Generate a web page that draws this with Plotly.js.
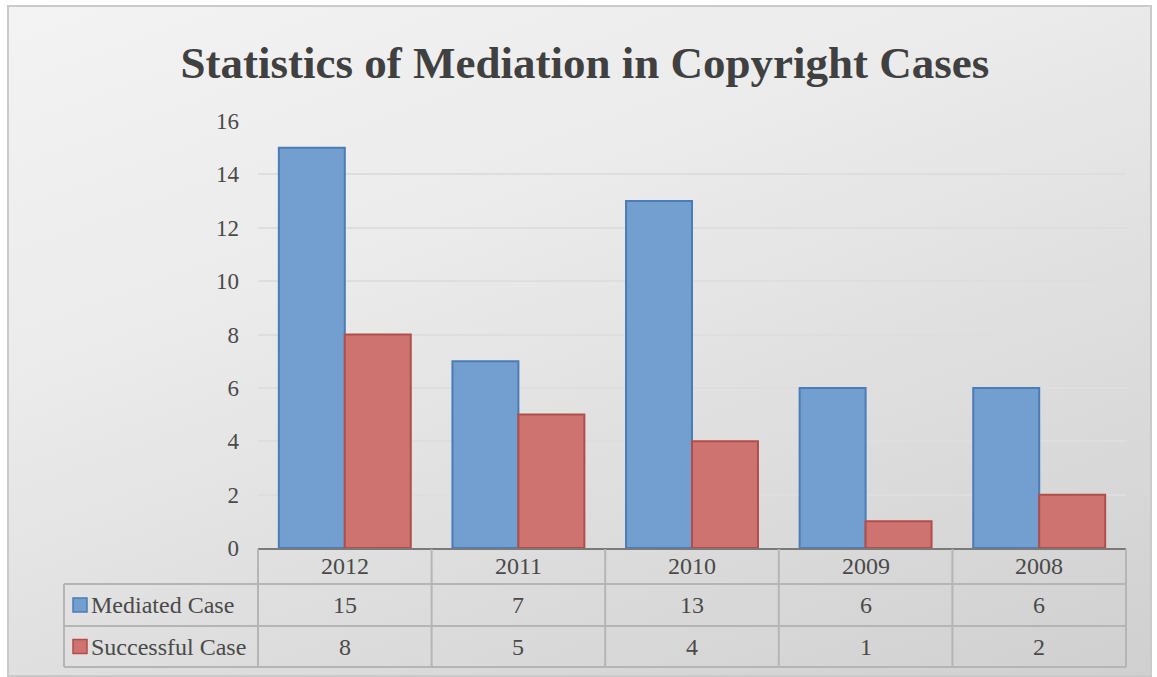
<!DOCTYPE html>
<html>
<head>
<meta charset="utf-8">
<script src="https://cdn.plot.ly/plotly-3.0.1.min.js"></script>
<style>
  html, body { margin: 0; padding: 0; background: #ffffff; }
  #wrap { position: relative; width: 1157px; height: 677px; overflow: hidden; }
  #frame { position: absolute; left: 7px; top: 5px; width: 1141px; height: 668px;
           border: 2px solid #cacaca;
           background: linear-gradient(160deg, #f3f3f3 0%, #ebebeb 35%, #dcdcdc 70%, #d0d0d0 100%); }
  #chart { position: absolute; left: 0; top: 0; width: 1157px; height: 677px; }
</style>
</head>
<body>
<div id="wrap">
  <div id="frame"></div>
  <div id="chart"></div>
</div>
<script>
const years = ["2012", "2011", "2010", "2009", "2008"];
const mediated = [15, 7, 13, 6, 6];
const successful = [8, 5, 4, 1, 2];
const seriesNames = ["Mediated Case", "Successful Case"];
const yTicks = [0, 2, 4, 6, 8, 10, 12, 14, 16];

const blueFill = "#729fcf", blueLine = "#4a7cb6";
const redFill = "#ce736f", redLine = "#b24e4a";
const gridCol = "#b5b5b5";
const serif = "'Liberation Serif', 'Times New Roman', serif";

const plotTop = 121, plotBottom = 548, plotLeft = 258, plotRight = 1126;
const H = plotBottom - plotTop, W = plotRight - plotLeft;
const py = px => (plotBottom - px) / H;   // pixel row -> paper y
const pxx = px => (px - plotLeft) / W;    // pixel col -> paper x
const colW = 1 / years.length;            // paper width of one category

const traces = [
  { type: "bar", name: seriesNames[0], x: years, y: mediated,
    marker: { color: blueFill, line: { color: blueLine, width: 2 } }, hoverinfo: "x+y+name" },
  { type: "bar", name: seriesNames[1], x: years, y: successful,
    marker: { color: redFill, line: { color: redLine, width: 2 } }, hoverinfo: "x+y+name" }
];

const shapes = [];
const annotations = [];
const rowY = [584, 626, 667];
rowY.forEach(r => shapes.push({ type: "line", xref: "paper", yref: "paper",
  x0: pxx(64), x1: 1, y0: py(r), y1: py(r), line: { color: gridCol, width: 2 } }));
shapes.push({ type: "line", xref: "paper", yref: "paper", x0: pxx(64), x1: pxx(64),
  y0: py(584), y1: py(667), line: { color: gridCol, width: 2 } });
for (let i = 0; i <= years.length; i++) {
  shapes.push({ type: "line", xref: "paper", yref: "paper", x0: i * colW, x1: i * colW,
    y0: py(549), y1: py(667), line: { color: gridCol, width: 2 } });
}
const keyCols = [[blueFill, blueLine], [redFill, redLine]];
const rowMid = [605, 646.5];
keyCols.forEach((c, k) => shapes.push({ type: "rect", xref: "paper", yref: "paper",
  x0: pxx(73), x1: pxx(87), y0: py(rowMid[k] - 7), y1: py(rowMid[k] + 7),
  fillcolor: c[0], line: { color: c[1], width: 1.5 } }));

const tFont = { family: serif, size: 24, color: "#4a4a4a" };
years.forEach((yr, i) => {
  const cx = (i + 0.5) * colW;
  annotations.push({ xref: "paper", yref: "paper", x: cx, y: py(566), text: yr,
    showarrow: false, font: tFont, xanchor: "center", yanchor: "middle" });
  annotations.push({ xref: "paper", yref: "paper", x: cx, y: py(rowMid[0]), text: String(mediated[i]),
    showarrow: false, font: tFont, xanchor: "center", yanchor: "middle" });
  annotations.push({ xref: "paper", yref: "paper", x: cx, y: py(rowMid[1]), text: String(successful[i]),
    showarrow: false, font: tFont, xanchor: "center", yanchor: "middle" });
});
seriesNames.forEach((n, k) => annotations.push({ xref: "paper", yref: "paper",
  x: pxx(89), y: py(rowMid[k]), text: n, showarrow: false, font: tFont,
  xanchor: "left", yanchor: "middle" }));

const layout = {
  width: 1157, height: 677,
  paper_bgcolor: "rgba(0,0,0,0)", plot_bgcolor: "rgba(0,0,0,0)",
  margin: { l: plotLeft, r: 1157 - plotRight, t: plotTop, b: 677 - plotBottom, pad: 0 },
  title: { text: "<b>Statistics of Mediation in Copyright Cases</b>", xref: "container", yref: "container",
    x: 0.5056, y: 1 - 62 / 677, xanchor: "center", yanchor: "middle",
    font: { family: serif, size: 45, color: "#404040" } },
  showlegend: false,
  barmode: "group", bargap: 0.24, bargroupgap: 0,
  xaxis: { type: "category", categoryorder: "array", categoryarray: years,
    range: [-0.5, years.length - 0.5], autorange: false,
    showticklabels: false, ticks: "", showgrid: false,
    showline: true, linecolor: "#7a7a7a", linewidth: 2, zeroline: false, fixedrange: true },
  yaxis: { range: [0, 16], autorange: false, tickvals: yTicks, ticktext: yTicks.map(String), showline: false,
    gridcolor: "#dedede", gridwidth: 2, zeroline: false, ticks: "", ticklabelstandoff: 18,
    tickfont: { family: serif, size: 23, color: "#4a4a4a" }, fixedrange: true },
  shapes: shapes, annotations: annotations
};

Plotly.newPlot("chart", traces, layout, { displayModeBar: false, staticPlot: true });
</script>
</body>
</html>
